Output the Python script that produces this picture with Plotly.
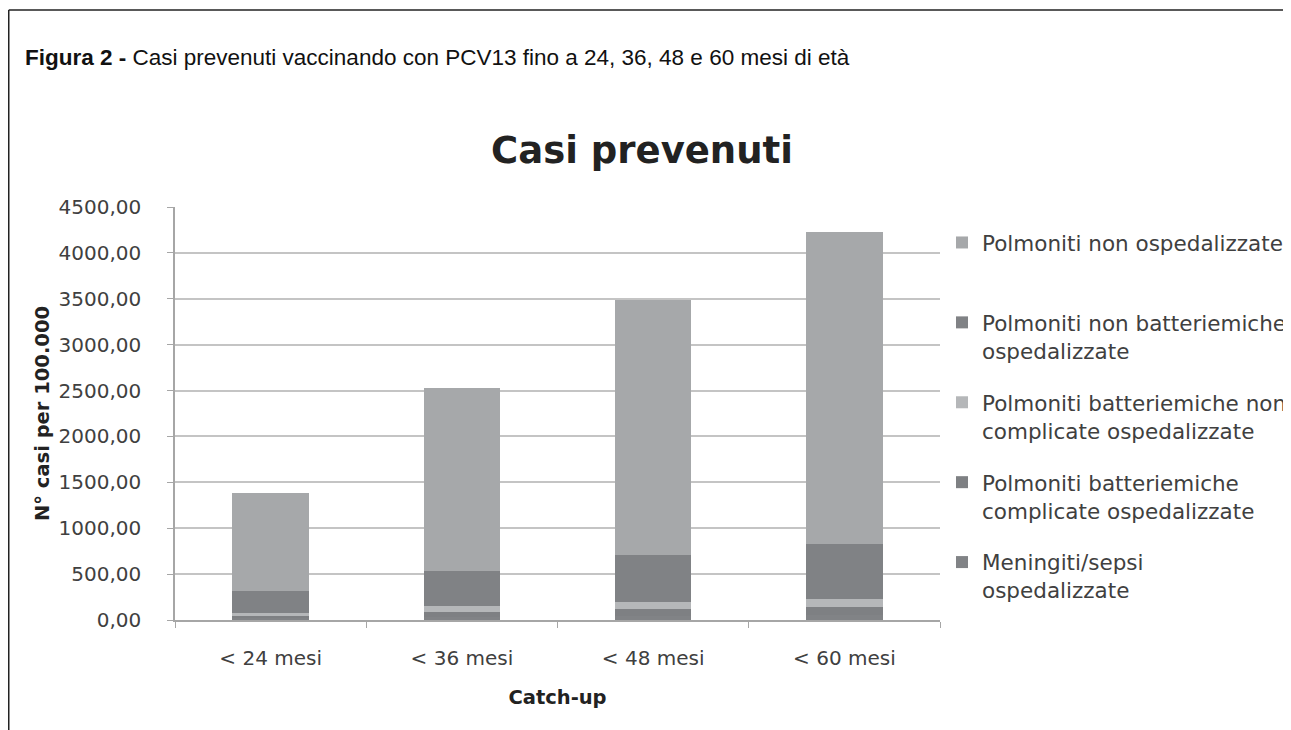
import plotly.graph_objects as go

categories = ["< 24 mesi", "< 36 mesi", "< 48 mesi", "< 60 mesi"]

# stacked from the bottom up
meningiti = [18, 32, 45, 56]
batt_complicate = [29, 52, 72, 89]
batt_non_complicate = [28, 70, 80, 82]
non_batt_osp = [243, 381, 511, 603]
non_osp = [1070, 1994, 2784, 3399]

series_names = [
    "Meningiti/sepsi<br>ospedalizzate",
    "Polmoniti batteriemiche<br>complicate ospedalizzate",
    "Polmoniti batteriemiche non<br>complicate ospedalizzate",
    "Polmoniti non batteriemiche<br>ospedalizzate",
    "Polmoniti non ospedalizzate<br>\u00a0",
]
series_values = [meningiti, batt_complicate, batt_non_complicate, non_batt_osp, non_osp]
series_colors = ["#818386", "#7e8083", "#b5b7b9", "#808285", "#a6a8aa"]

y_ticks = [0, 500, 1000, 1500, 2000, 2500, 3000, 3500, 4000, 4500]

# the page body has an 8px margin, so work in screen pixels and shift
OFF = 8
W, H = 1291 - OFF, 730 - OFF
L, R, T, B = 175, 940, 207, 620  # plot area, screen pixels


def px_x(p):
    return (p - L) / (R - L)


def px_y(p):
    return (B - p) / (B - T)


fig = go.Figure()

n = len(series_names)
for i, (name, vals, col) in enumerate(zip(series_names, series_values, series_colors)):
    fig.add_trace(go.Bar(
        x=categories,
        y=vals,
        name=name,
        legendgroup="g%d" % i,
        legendrank=n - i,
        marker=dict(color=col, line=dict(width=0)),
    ))

font_main = "DejaVu Sans"

fig.update_layout(
    width=W,
    height=H,
    barmode="stack",
    bargap=0.6,
    separators=",.",
    paper_bgcolor="white",
    plot_bgcolor="white",
    margin=dict(l=L - OFF, r=1291 - R, t=T - OFF, b=(OFF + H) - B, autoexpand=False),
    font=dict(family=font_main, size=20, color="#404040"),
    title=dict(
        text="<b>Casi prevenuti</b>",
        x=(642 - OFF) / W, xanchor="center",
        y=1 - (150 - OFF) / H, yanchor="middle",
        font=dict(family=font_main, size=37, color="#222222"),
    ),
    legend=dict(
        x=px_x(942), xanchor="left",
        y=px_y(222), yanchor="top",
        traceorder="grouped",
        tracegroupgap=21,
        valign="top",
        font=dict(family=font_main, size=21.5, color="#404040"),
        bgcolor="rgba(0,0,0,0)",
    ),
    showlegend=True,
)

fig.update_xaxes(
    showgrid=False,
    showline=True, linecolor="#a6a6a6", linewidth=1.5,
    ticks="outside", tickson="boundaries", ticklen=6, tickcolor="#a6a6a6",
    ticklabelstandoff=19,
    tickfont=dict(family=font_main, size=20, color="#404040"),
    title=dict(text="<b>Catch-up</b>", standoff=22,
               font=dict(family=font_main, size=19.5, color="#222222")),
)

fig.update_yaxes(
    range=[0, 4500],
    tickvals=y_ticks,
    tickformat=".2f",
    showgrid=True, gridcolor="#c4c4c4", gridwidth=1.5,
    zeroline=False,
    showline=True, linecolor="#a6a6a6", linewidth=1.5,
    ticks="outside", ticklen=6, tickcolor="#a6a6a6",
    ticklabelstandoff=22,
    tickfont=dict(family=font_main, size=20, color="#404040"),
    title=dict(text="<b>N° casi per 100.000</b>", standoff=4,
               font=dict(family=font_main, size=19.5, color="#222222")),
)

# figure caption
fig.add_annotation(
    xref="paper", yref="paper",
    x=px_x(23), y=px_y(57),
    xanchor="left", yanchor="middle",
    showarrow=False,
    text="<b>Figura 2 -</b> Casi prevenuti vaccinando con PCV13 fino a 24, 36, 48 e 60 mesi di età",
    font=dict(family="Liberation Sans", size=22.5, color="#111111"),
)

# page frame (top and left edges)
fig.add_shape(type="line", xref="paper", yref="paper",
              x0=px_x(8.75), x1=px_x(1300), y0=px_y(10), y1=px_y(10),
              line=dict(color="#222222", width=1.5))
fig.add_shape(type="line", xref="paper", yref="paper",
              x0=px_x(8.75), x1=px_x(8.75), y0=px_y(10), y1=px_y(740),
              line=dict(color="#222222", width=1.5))

fig.write_html("out.html")
